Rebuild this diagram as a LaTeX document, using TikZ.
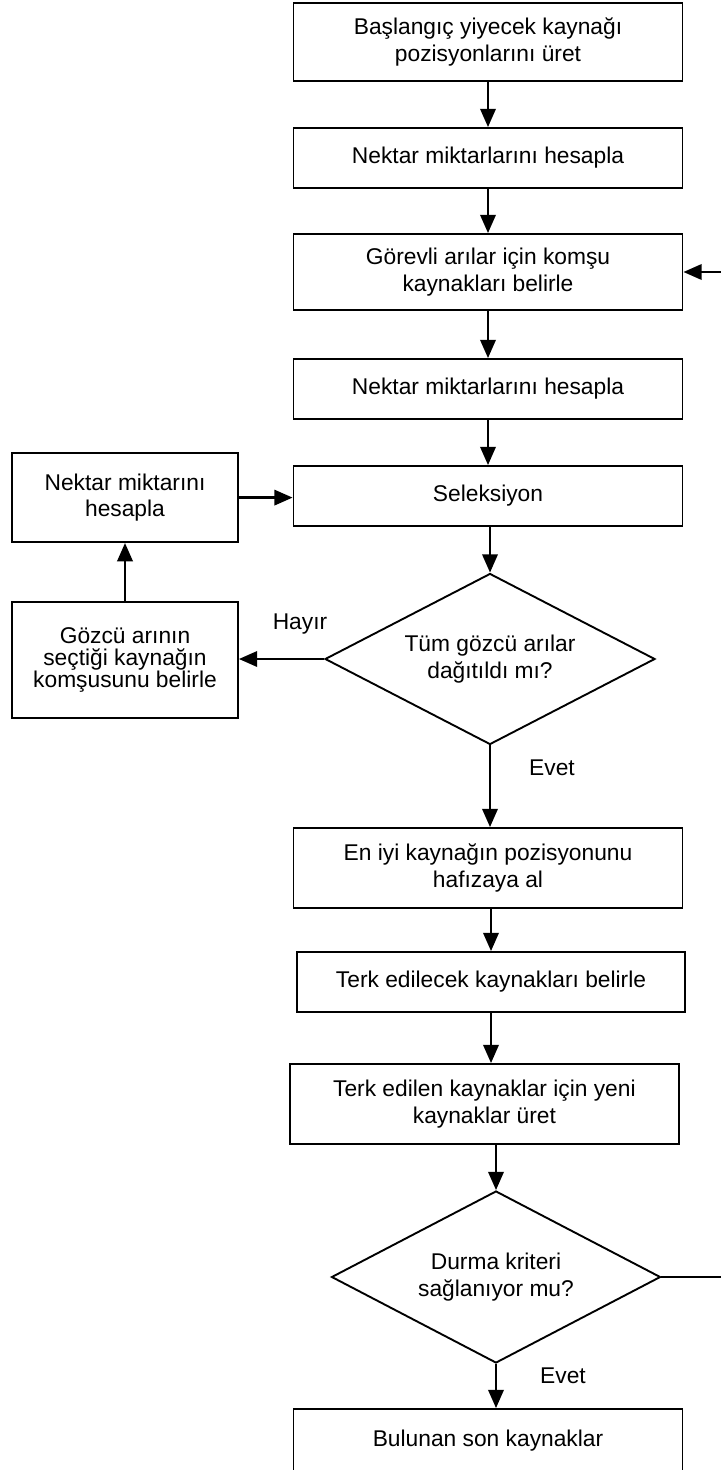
\documentclass[tikz,border=0pt]{standalone}
\usepackage{fontspec}
\setmainfont{Liberation Sans}
\usetikzlibrary{shapes.geometric, arrows.meta, positioning}

\begin{document}
\begin{tikzpicture}[
    font=\fontsize{16.2}{19}\selectfont,
    processBox/.style={draw=borderColour, line width=1.35pt, rectangle, align=center, inner sep=2pt, minimum width=9.725cm, minimum height=1.5cm},
    decisionBox/.style={draw=borderColour, line width=1.35pt, diamond, aspect=1.9, align=center, inner sep=0pt},
    flowArrow/.style={draw=borderColour, line width=1.6pt, -{Triangle[length=13pt,width=11pt]}},
    branchLabel/.style={inner sep=0pt}
]
    \definecolor{borderColour}{HTML}{000000}

    % Fix the page size
    \useasboundingbox (0,0) rectangle (18,-36.75);

    % Main column
    \node[processBox, minimum height=1.95cm] (startPos) at (12.2,-1.05) {Başlangıç yiyecek kaynağı\\pozisyonlarını üret};
    \node[processBox] (nectarOne) at (12.2,-3.95) {Nektar miktarlarını hesapla};
    \node[processBox, minimum height=1.9cm] (employedNbr) at (12.2,-6.8) {Görevli arılar için komşu\\kaynakları belirle};
    \node[processBox] (nectarTwo) at (12.2,-9.725) {Nektar miktarlarını hesapla};
    \node[processBox] (selection) at (12.2,-12.4) {Seleksiyon};
    \node[decisionBox, minimum width=8.25cm, minimum height=4.275cm] (scoutsDone) at (12.25,-16.475) {Tüm gözcü arılar\\dağıtıldı mı?};
    \node[processBox, minimum height=2cm] (memoBest) at (12.2,-21.7) {En iyi kaynağın pozisyonunu\\hafızaya al};
    \node[processBox, minimum width=9.7cm] (abandonSel) at (12.275,-24.55) {Terk edilecek kaynakları belirle};
    \node[processBox, minimum height=2cm] (newSources) at (12.11,-27.6) {Terk edilen kaynaklar için yeni\\kaynaklar üret};
    \node[decisionBox, minimum width=8.225cm, minimum height=4.3cm] (stopCheck) at (12.4,-31.925) {Durma kriteri\\sağlanıyor mu?};
    \node[processBox, minimum height=1.6cm] (finalSources) at (12.2,-36.025) {Bulunan son kaynaklar};

    % Scout bee branch
    \node[processBox, minimum width=5.65cm, minimum height=2.225cm] (nectarScout) at (3.125,-12.44) {Nektar miktarını\\hesapla};
    \node[processBox, minimum width=5.65cm, minimum height=2.9cm, font=\fontsize{16.2}{15.5}\selectfont] (scoutNbr) at (3.125,-16.5) {Gözcü arının\\seçtiği kaynağın\\komşusunu belirle};

    % Branch labels
    \node[branchLabel] (noLabel) at (7.5,-15.6) {Hayır};
    \node[branchLabel] (yesOne) at (13.8,-19.2) {Evet};
    \node[branchLabel] (yesTwo) at (14.075,-34.4) {Evet};

    % Draw arrows
    \draw[flowArrow] (startPos.south) -- (nectarOne.north);
    \draw[flowArrow] (nectarOne.south) -- (employedNbr.north);
    \draw[flowArrow] (employedNbr.south) -- (nectarTwo.north);
    \draw[flowArrow] (nectarTwo.south) -- (selection.north);
    \draw[flowArrow] (scoutsDone.north |- selection.south) -- (scoutsDone.north);
    \draw[flowArrow] (scoutsDone.west) -- (scoutsDone.west -| scoutNbr.east);
    \draw[flowArrow] (scoutNbr.north) -- (nectarScout.south);
    \draw[flowArrow] (nectarScout.east) -- (nectarScout.east -| selection.west);
    \draw[flowArrow] (scoutsDone.south) -- (scoutsDone.south |- memoBest.north);
    \draw[flowArrow] (abandonSel.north |- memoBest.south) -- (abandonSel.north);
    \draw[flowArrow] (abandonSel.south) -- (abandonSel.south |- newSources.north);
    \draw[flowArrow] (stopCheck.north |- newSources.south) -- (stopCheck.north);
    \draw[flowArrow] (stopCheck.south) -- (stopCheck.south |- finalSources.north);

    % Loop back beyond the right edge
    \coordinate (loopEdge) at (18.1,0);
    \draw[flowArrow] (stopCheck.east) -- (stopCheck.east -| loopEdge) |- (employedNbr.east);

\end{tikzpicture}
\end{document}
